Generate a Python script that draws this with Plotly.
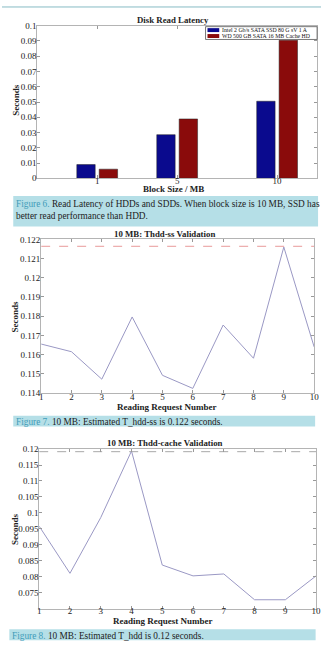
import plotly.graph_objects as go

W, H = 326, 657

# ---------------- data ----------------
block_sizes = [1, 5, 10]
ssd_latency = [0.0090, 0.0286, 0.0505]
hdd_latency = [0.0060, 0.0389, 0.0905]
series_names = ["Intel 2 Gb/s SATA SSD 80 G sV 1 A", "WD 500 GB SATA 16 MB Cache HD"]
series_colors = ["#0a0a8e", "#8a0b0b"]
lat_ticks = [0, 0.01, 0.02, 0.03, 0.04, 0.05, 0.06, 0.07, 0.08, 0.09, 0.1]
lat_ticktext = ["0", "0.01", "0.02", "0.03", "0.04", "0.05", "0.06", "0.07", "0.08", "0.09", "0.1"]

requests = [1, 2, 3, 4, 5, 6, 7, 8, 9, 10]
thdd_ss = [0.11655, 0.11615, 0.11472, 0.11796, 0.11492, 0.11424, 0.11754, 0.11581, 0.12160, 0.11640]
thdd_ss_est = 0.12164
ss_ticks = [0.114, 0.115, 0.116, 0.117, 0.118, 0.119, 0.12, 0.121, 0.122]
ss_ticktext = ["0.114", "0.115", "0.116", "0.117", "0.118", "0.119", "0.12", "0.121", "0.122"]

thdd_cache = [0.0958, 0.0810, 0.0985, 0.1194, 0.0836, 0.0802, 0.0808, 0.0727, 0.0727, 0.0802]
thdd_cache_est = 0.1192
cache_ticks = [0.075, 0.08, 0.085, 0.09, 0.095, 0.1, 0.105, 0.11, 0.115, 0.12]
cache_ticktext = ["0.075", "0.08", "0.085", "0.09", "0.095", "0.1", "0.105", "0.11", "0.115", "0.12"]

captions = [
    ("Figure 6.", " Read Latency of HDDs and SDDs. When block size is 10 MB, SSD has<br>better read performance than HDD."),
    ("Figure 7.", " 10 MB: Estimated T_hdd-ss is 0.122 seconds."),
    ("Figure 8.", " 10 MB: Estimated T_hdd is 0.12 seconds."),
]

# ---------------- helpers ----------------
SERIF = "'Liberation Serif', 'Times New Roman', Times, 'DejaVu Serif', serif"
def px_x(p):
    return p / W
def px_y(p):
    return 1 - p / H

fig = go.Figure()

# chart 1 bars
fig.add_trace(go.Bar(x=block_sizes, y=ssd_latency, width=0.92, offset=-1.02,
                     marker=dict(color=series_colors[0], line=dict(width=0.5, color="#222")),
                     name=series_names[0], xaxis="x", yaxis="y", showlegend=False))
fig.add_trace(go.Bar(x=block_sizes, y=hdd_latency, width=0.92, offset=0.10,
                     marker=dict(color=series_colors[1], line=dict(width=0.5, color="#222")),
                     name=series_names[1], xaxis="x", yaxis="y", showlegend=False))

# chart 2
fig.add_trace(go.Scatter(x=[requests[0], requests[-1]], y=[thdd_ss_est, thdd_ss_est], mode="lines",
                         line=dict(color="#e89a9a", width=1, dash="dash"),
                         xaxis="x2", yaxis="y2", showlegend=False))
fig.add_trace(go.Scatter(x=requests, y=thdd_ss, mode="lines",
                         line=dict(color="#9a98c4", width=1),
                         xaxis="x2", yaxis="y2", showlegend=False))

# chart 3
fig.add_trace(go.Scatter(x=[requests[0], requests[-1]], y=[thdd_cache_est, thdd_cache_est], mode="lines",
                         line=dict(color="#a8a8a8", width=1, dash="dash"),
                         xaxis="x3", yaxis="y3", showlegend=False))
fig.add_trace(go.Scatter(x=requests, y=thdd_cache, mode="lines",
                         line=dict(color="#9a98c4", width=1),
                         xaxis="x3", yaxis="y3", showlegend=False))

tickfont = dict(family=SERIF, size=9, color="#222")
axis_common = dict(showgrid=False, zeroline=False, showline=True, mirror="ticks",
                   linecolor="#b4b4b4", linewidth=1, ticks="inside", ticklen=3,
                   tickcolor="#999", tickfont=tickfont, fixedrange=True)

fig.update_layout(
    width=W, height=H, margin=dict(l=0, r=0, t=0, b=0),
    paper_bgcolor="white", plot_bgcolor="white",
    barmode="overlay",
    font=dict(family=SERIF),
    xaxis=dict(domain=[px_x(36), px_x(322)], range=[-2, 12], tickvals=block_sizes,
               anchor="y", ticklabelstandoff=-6, **axis_common),
    yaxis=dict(domain=[px_y(176), px_y(21)], range=[0, 0.1], tickvals=lat_ticks,
               ticktext=lat_ticktext, anchor="x", ticklabelstandoff=-2, **axis_common),
    xaxis2=dict(domain=[px_x(40), px_x(319)], range=[1, 10], tickvals=requests,
                anchor="y2", ticklabelstandoff=-5, **axis_common),
    yaxis2=dict(domain=[px_y(394), px_y(238)], range=[0.114, 0.122], tickvals=ss_ticks,
                ticktext=ss_ticktext, anchor="x2", ticklabelstandoff=-2, **axis_common),
    xaxis3=dict(domain=[px_x(38), px_x(321)], range=[1, 10], tickvals=requests,
                anchor="y3", ticklabelstandoff=-6, **axis_common),
    yaxis3=dict(domain=[px_y(613), px_y(451)], range=[0.0699, 0.12], tickvals=cache_ticks,
                ticktext=cache_ticktext, anchor="x3", ticklabelstandoff=-2, **axis_common),
)

shapes = []
annotations = []

# top rule
shapes.append(dict(type="line", xref="paper", yref="paper", x0=0, x1=1,
                   y0=px_y(2), y1=px_y(2), line=dict(color="#86bcc4", width=1)))

# caption bands
bands = [(11.5, 323, 194, 225), (11.5, 320, 417, 428), (7.5, 320.5, 634, 645)]
for (x0, x1, y0, y1) in bands:
    shapes.append(dict(type="rect", xref="paper", yref="paper", x0=px_x(x0), x1=px_x(x1),
                       y0=px_y(y1), y1=px_y(y0), fillcolor="#b5dfe7", line=dict(width=0), layer="below"))

cap_pos = [(12.5, 195.2), (12.5, 416.8), (8.5, 633.8)]
for (lab, txt), (cx, cy) in zip(captions, cap_pos):
    annotations.append(dict(xref="paper", yref="paper", x=px_x(cx), y=px_y(cy),
                            xanchor="left", yanchor="top", align="left", showarrow=False,
                            text="<span style='color:#3f9cb9'>" + lab + "</span>" + txt,
                            font=dict(family=SERIF, size=9.3, color="#222")))

# titles
titles = [("Disk Read Latency", 175, 15), ("10 MB: Thdd-ss Validation", 166, 233),
          ("10 MB: Thdd-cache Validation", 167, 445)]
for t, cx, cy in titles:
    annotations.append(dict(xref="paper", yref="paper", x=px_x(cx), y=px_y(cy),
                            xanchor="center", yanchor="middle", showarrow=False,
                            text="<b>" + t + "</b>", font=dict(family=SERIF, size=8.8, color="#222")))

# x-axis labels
xlabels = [("Block Size / MB", 175, 186.5), ("Reading Request Number", 169, 408.5),
           ("Reading Request Number", 164.5, 625.5)]
for t, cx, cy in xlabels:
    annotations.append(dict(xref="paper", yref="paper", x=px_x(cx), y=px_y(cy),
                            xanchor="center", yanchor="middle", showarrow=False,
                            text="<b>" + t + "</b>", font=dict(family=SERIF, size=9, color="#222")))

# y-axis labels
for cy in [96, 316, 532]:
    annotations.append(dict(xref="paper", yref="paper", x=px_x(13.5), y=px_y(cy),
                            xanchor="center", yanchor="middle", showarrow=False, textangle=-90,
                            text="<b>Seconds</b>", font=dict(family=SERIF, size=9, color="#222")))

# legend box (chart 1)
lx0, lx1, ly0, ly1 = 208, 322, 22, 35
shapes.append(dict(type="rect", xref="paper", yref="paper", x0=px_x(lx0), x1=px_x(lx1),
                   y0=px_y(ly1), y1=px_y(ly0), fillcolor="white", line=dict(color="#555", width=0.8)))
for i, (nm, col) in enumerate(zip(series_names, series_colors)):
    yc = 25.5 + i * 6
    shapes.append(dict(type="rect", xref="paper", yref="paper", x0=px_x(210), x1=px_x(222),
                       y0=px_y(yc + 2), y1=px_y(yc - 2), fillcolor=col, line=dict(width=0)))
    annotations.append(dict(xref="paper", yref="paper", x=px_x(223), y=px_y(yc),
                            xanchor="left", yanchor="middle", showarrow=False,
                            text=nm, font=dict(family=SERIF, size=5.8, color="#111")))

fig.update_layout(shapes=shapes, annotations=annotations)
fig.write_html("out.html")
